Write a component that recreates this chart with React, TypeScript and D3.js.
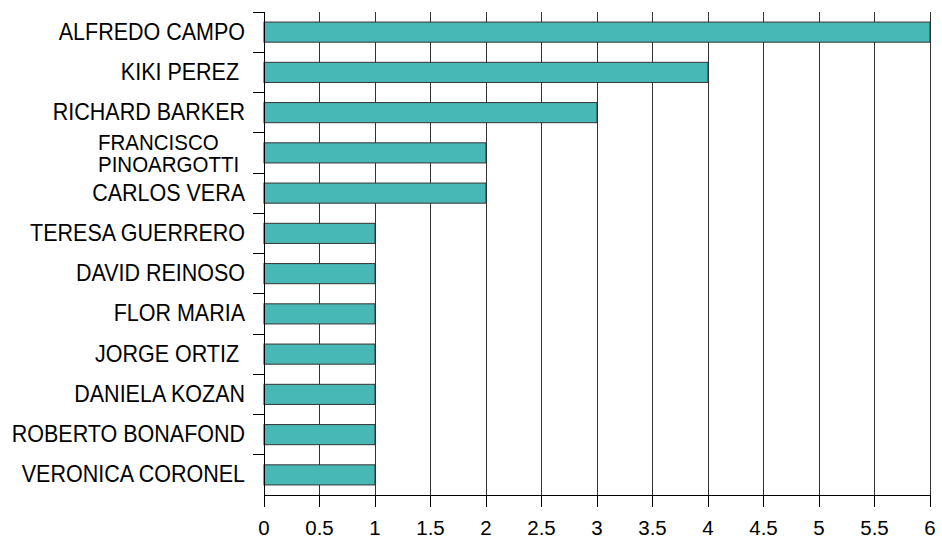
import React from 'react';
import * as d3 from 'd3';

const names = [
  'ALFREDO CAMPO', 'KIKI PEREZ ', 'RICHARD BARKER', 'FRANCISCO PINOARGOTTI', 'CARLOS VERA',
  'TERESA GUERRERO', 'DAVID REINOSO', 'FLOR MARIA', 'JORGE ORTIZ ', 'DANIELA KOZAN',
  'ROBERTO BONAFOND', 'VERONICA CORONEL',
];
const counts = [6, 4, 3, 2, 2, 1, 1, 1, 1, 1, 1, 1];
const xTicks = [0, 0.5, 1, 1.5, 2, 2.5, 3, 3.5, 4, 4.5, 5, 5.5, 6];

// long names get split over two lines like the original
const wrapped: Record<string, string[]> = {
  'FRANCISCO PINOARGOTTI': ['FRANCISCO', 'PINOARGOTTI'],
};

const App = () => {
  const width = 942;
  const height = 538;
  const margin = { top: 12, right: 12, bottom: 43, left: 264 };
  const innerW = 930 - margin.left;
  const innerH = 495 - margin.top;

  const x = d3.scaleLinear().domain([0, 6]).range([0, innerW]);
  const y = d3.scaleBand<string>()
    .domain(names)
    .range([0, innerH])
    .paddingInner(0.5)
    .paddingOuter(0.25);
  const step = y.step();
  const font = 'Arial, "Liberation Sans", sans-serif';

  return (
    <svg width={width} height={height} style={{ position: 'absolute', left: 0, top: 0 }}>
      <g transform={`translate(${margin.left},${margin.top})`}>
        {xTicks.map(t => (
          <line key={'g' + t} x1={x(t)} x2={x(t)} y1={0} y2={innerH} stroke="#333" strokeWidth={1} shapeRendering="crispEdges" />
        ))}
        {names.map((n, i) => (
          <rect
            key={n}
            x={x(0)}
            y={y(n)}
            width={x(counts[i]) - x(0)}
            height={y.bandwidth()}
            fill="#47B8B6"
            stroke="#333"
            strokeWidth={1}
          />
        ))}
        {/* y axis */}
        <line x1={0} x2={0} y1={0} y2={innerH} stroke="#000" shapeRendering="crispEdges" />
        {names.map((n, i) => (
          <line key={'yt' + n} x1={-11} x2={0} y1={i * step} y2={i * step} stroke="#000" shapeRendering="crispEdges" />
        ))}
        {names.map(n => {
          const cy = (y(n) || 0) + y.bandwidth() / 2;
          const lines = wrapped[n];
          if (lines) {
            return (
              <g key={'yl' + n}>
                {lines.map((l, j) => (
                  <text key={j} transform={`translate(-166,${cy - 3 + j * 21.7}) scale(1,1.06)`} textAnchor="start" fontFamily={font} fontSize={20.5} fill="#000">{l}</text>
                ))}
              </g>
            );
          }
          return (
            <text key={'yl' + n} transform={`translate(-19,${cy + 7.5}) scale(1,1.08)`} textAnchor="end" fontFamily={font} fontSize={21.5} fill="#000" style={{ whiteSpace: 'pre' }}>
              {n}
            </text>
          );
        })}
        {/* x axis */}
        <line x1={0} x2={innerW} y1={innerH} y2={innerH} stroke="#000" shapeRendering="crispEdges" />
        {xTicks.map(t => (
          <g key={'xt' + t}>
            <line x1={x(t)} x2={x(t)} y1={innerH} y2={innerH + 12} stroke="#000" shapeRendering="crispEdges" />
            <text x={x(t)} y={innerH + 40} textAnchor="middle" fontFamily={font} fontSize={20.5} fill="#000">{t}</text>
          </g>
        ))}
      </g>
    </svg>
  );
};

export default App;
